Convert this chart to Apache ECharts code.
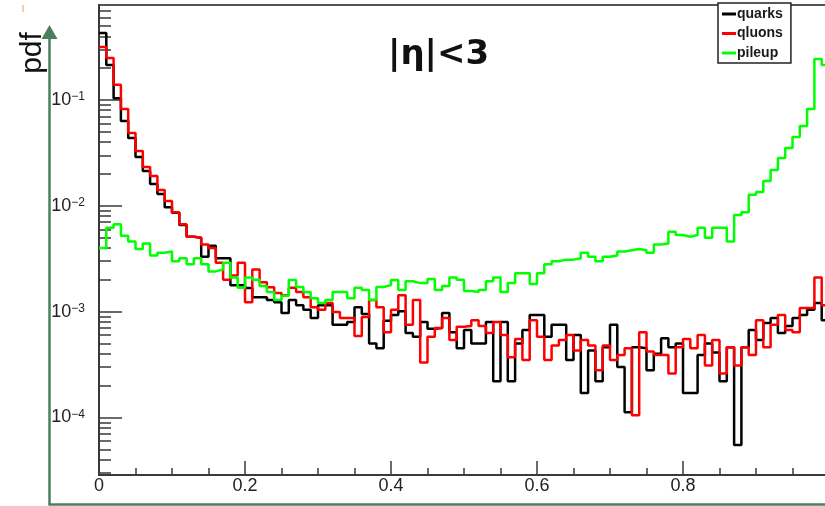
<!DOCTYPE html>
<html><head><meta charset="utf-8">
<script src="https://cdn.jsdelivr.net/npm/echarts@6/dist/echarts.min.js"></script>
<style>html,body{margin:0;padding:0;background:#fff}#c{width:825px;height:506px}</style>
</head><body><div id="c"></div>
<script>
// ---- data (pdf per bin, 100 bins of width 0.01 from 0 to 1) ----
const seriesNames = ['quarks', 'qluons', 'pileup'];
const binWidth = 0.01;
const quarks = [0.43,0.214,0.104,0.0633,0.0438,0.0289,0.0213,0.0161,0.0129,0.0097,
 0.0086,0.0066,0.0051,0.0050,0.0033,0.0042,0.0032,0.0032,0.00178,0.00178,
 0.00167,0.00137,0.00137,0.00129,0.00123,0.00097,0.00129,0.00115,0.00104,0.00087,
 0.00115,0.00115,0.00075,0.00075,0.00080,0.00110,0.00095,0.00050,0.00045,0.00082,
 0.00093,0.00101,0.00063,0.00058,0.00080,0.00069,0.00070,0.00097,0.00064,0.00045,
 0.00067,0.00050,0.00050,0.00080,0.00022,0.00080,0.00022,0.00050,0.00067,0.00093,
 0.00093,0.00058,0.00075,0.00075,0.00035,0.00060,0.00017,0.00043,0.00022,0.00046,
 0.00075,0.00030,0.000112,0.00046,0.00045,0.00028,0.00040,0.00056,0.00046,0.00050,
 0.00017,0.00017,0.00039,0.00050,0.00041,0.00022,0.00046,0.0000548,0.00046,0.00067,
 0.00054,0.00078,0.00087,0.00063,0.00073,0.00087,0.00093,0.00104,0.00121,0.00083];
const gluons = [0.317,0.249,0.139,0.0822,0.0488,0.0329,0.0233,0.0191,0.0141,0.0111,
 0.0087,0.0067,0.0051,0.0050,0.0043,0.0040,0.0029,0.0020,0.0022,0.0029,
 0.00123,0.0025,0.0019,0.0017,0.0015,0.00143,0.00168,0.00153,0.00137,0.00110,
 0.00104,0.00121,0.00099,0.00087,0.00087,0.00059,0.00089,0.00129,0.00110,0.00064,
 0.00104,0.00143,0.00075,0.00129,0.00033,0.00058,0.00070,0.00087,0.00054,0.00072,
 0.00073,0.00083,0.00073,0.00063,0.00080,0.00060,0.00037,0.00055,0.00035,0.00083,
 0.00058,0.00035,0.00048,0.00054,0.00060,0.00043,0.00054,0.00048,0.00028,0.00048,
 0.00035,0.00039,0.00045,0.000105,0.00064,0.00042,0.00039,0.00039,0.00026,0.00046,
 0.00055,0.00045,0.00060,0.00031,0.00054,0.00026,0.00046,0.00031,0.00046,0.00039,
 0.00083,0.00046,0.00075,0.00093,0.00067,0.00064,0.00108,0.00108,0.0021,0.00115];
const pileup = [0.0040,0.0062,0.0067,0.0052,0.0046,0.0039,0.0044,0.0034,0.0036,0.0037,
 0.0030,0.0032,0.0028,0.0032,0.0028,0.0024,0.0025,0.0029,0.0021,0.00168,
 0.0021,0.0020,0.00175,0.00153,0.00129,0.00141,0.00199,0.00171,0.00153,0.00134,
 0.00121,0.00129,0.00153,0.00153,0.00134,0.00168,0.00160,0.00129,0.00171,0.00178,
 0.00199,0.00160,0.00194,0.00186,0.00186,0.00203,0.00160,0.00175,0.0021,0.0020,
 0.00157,0.00153,0.00160,0.00194,0.0021,0.00153,0.00186,0.0023,0.0023,0.00182,
 0.0023,0.0028,0.0030,0.0031,0.0031,0.0032,0.0036,0.0033,0.0030,0.0033,
 0.0034,0.0037,0.0038,0.0039,0.0038,0.0036,0.0043,0.0044,0.0057,0.0053,
 0.0051,0.0053,0.0062,0.0050,0.0062,0.0062,0.0046,0.0082,0.0087,0.0127,
 0.0135,0.0172,0.0218,0.0283,0.0352,0.0447,0.0568,0.0822,0.244,0.214];
const xTickLabels = [0, 0.2, 0.4, 0.6, 0.8, 1];
const yDecades = [-4, -3, -2, -1];          // exponents of the labelled decades
const yMin = 2.86e-5, yMax = 0.79;          // axis range (pdf)
const colors = ['#000000', '#ff0000', '#00ff00'];

// ---- build ----
const lg = v => Math.log10(v);
function stepData(arr) {
  const d = arr.map((v, i) => [i * binWidth, lg(v)]);
  d.push([arr.length * binWidth, lg(arr[arr.length - 1])]);
  return d;
}
const minorTicks = [];
for (let n = -5; n <= -1; n++) for (let k = 2; k <= 9; k++) {
  const t = lg(k * Math.pow(10, n));
  if (t > lg(yMin) && t < lg(yMax)) minorTicks.push(t);
}
const FONT = 'Liberation Sans, Arial, Helvetica, sans-serif';
const axisCol = '#3a3a3a';

const chart = echarts.init(document.getElementById('c'), null, {renderer: 'canvas'});
chart.setOption({
  animation: false,
  backgroundColor: '#ffffff',
  grid: {left: 99, top: 5, width: 730, height: 470, outerBoundsMode: 'none', containLabel: false,
    show: true, borderColor: '#555', borderWidth: 2, backgroundColor: 'transparent'},
  xAxis: {
    type: 'value', min: 0, max: 1, interval: 0.2,
    axisLine: {show: true, onZero: false, lineStyle: {color: axisCol, width: 2}},
    axisTick: {show: true, inside: true, length: 14, lineStyle: {color: axisCol, width: 1.5}},
    minorTick: {show: true, splitNumber: 4, length: 7, lineStyle: {color: axisCol, width: 1.5}},
    splitLine: {show: false},
    axisLabel: {margin: 2, fontSize: 18, fontFamily: FONT, color: '#222', hideOverlap: false,
      formatter: v => String(xTickLabels.find(t => Math.abs(t - v) < 1e-9) ?? '')}
  },
  yAxis: [{
    type: 'value', min: lg(yMin), max: lg(yMax),
    axisLine: {show: true, onZero: false, lineStyle: {color: axisCol, width: 2}},
    axisTick: {show: true, inside: true, length: 23, customValues: yDecades, lineStyle: {color: axisCol, width: 1.5}},
    splitLine: {show: false},
    axisLabel: {
      customValues: yDecades, margin: 14, fontFamily: FONT, color: '#222',
      formatter: v => '{b|10}{s|\u2212' + Math.abs(Math.round(v)) + '}',
      rich: {
        b: {fontSize: 18, lineHeight: 18, fontFamily: FONT, color: '#222', verticalAlign: 'bottom'},
        s: {fontSize: 12, lineHeight: 12, fontFamily: FONT, color: '#222', verticalAlign: 'top'}
      }
    }
  }, {
    type: 'value', min: lg(yMin), max: lg(yMax), position: 'left',
    axisLine: {show: false},
    axisTick: {show: true, inside: true, length: 12, customValues: minorTicks, lineStyle: {color: axisCol, width: 1.5}},
    axisLabel: {show: false},
    splitLine: {show: false}
  }],
  legend: {
    orient: 'vertical', left: 718, top: 3,
    data: seriesNames.map(n => ({name: n, icon: 'rect'})),
    itemWidth: 14, itemHeight: 3, itemGap: 5.5,
    padding: [4, 8, 3, 4],
    borderColor: '#222', borderWidth: 1.5, backgroundColor: '#fff',
    textStyle: {fontSize: 14, fontWeight: 'bold', fontFamily: FONT, color: '#1a1a1a', lineHeight: 14, padding: [0, 0, 0, -4]}
  },
  series: [quarks, gluons, pileup].map((arr, i) => ({
    name: seriesNames[i], type: 'line', step: 'end', data: stepData(arr),
    showSymbol: false, symbol: 'none', clip: true,
    lineStyle: {color: colors[i], width: 2.5}, itemStyle: {color: colors[i]},
    emphasis: {disabled: true}
  })),
  graphic: [
    {type: 'text', x: 388, y: 55, style: {text: '|\u03b7|<3', font: 'bold 34px "DejaVu Sans", sans-serif', fill: '#111', verticalAlign: 'middle', align: 'left'}},
    {type: 'text', x: 33, y: 53, rotation: Math.PI / 2, style: {text: 'pdf', font: '30px ' + FONT, fill: '#111', align: 'center', verticalAlign: 'middle'}},
    {type: 'line', shape: {x1: 49.5, y1: 36, x2: 49.5, y2: 505}, style: {stroke: '#4b7f5e', lineWidth: 2.5}},
    {type: 'line', shape: {x1: 48.5, y1: 504.5, x2: 825, y2: 504.5}, style: {stroke: '#4b7f5e', lineWidth: 2.5}},
    {type: 'polygon', shape: {points: [[49.5, 25], [41.5, 39], [57.5, 39]]}, style: {fill: '#4b7f5e'}},
    {type: 'line', shape: {x1: 23, y1: 5, x2: 23, y2: 12}, style: {stroke: '#d9a066', lineWidth: 1}}
  ]
});
</script></body></html>
